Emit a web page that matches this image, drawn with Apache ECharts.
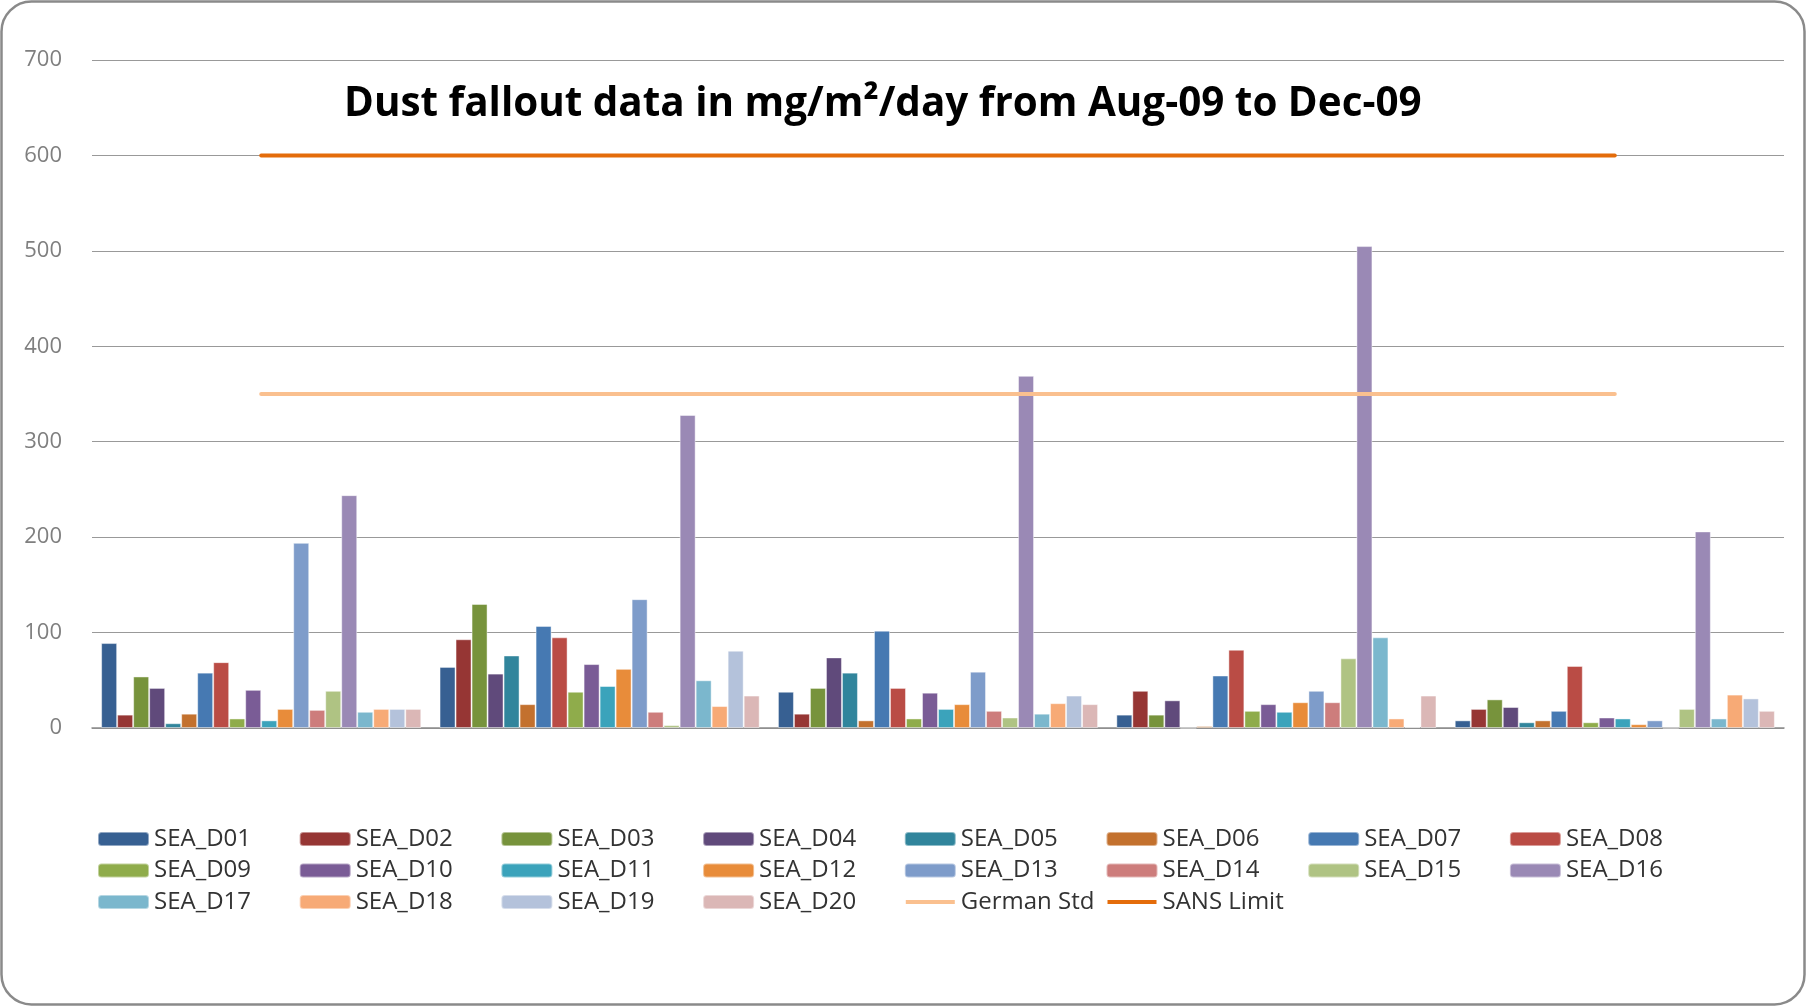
<!DOCTYPE html>
<html>
<head>
<meta charset="utf-8">
<title>Dust fallout</title>
<script src="https://cdn.jsdelivr.net/npm/echarts@6/dist/echarts.min.js"></script>
<style>
  html, body { margin: 0; padding: 0; background: #fff; }
  #chart { width: 1807px; height: 1007px; }
</style>
</head>
<body>
<div id="chart"></div>
<script>
// months (no labels shown on the original x axis)
const months = ['Aug-09', 'Sep-09', 'Oct-09', 'Nov-09', 'Dec-09']

const D01 = [89, 64, 38, 14, 8]
const D02 = [14, 93, 15, 39, 20]
const D03 = [54, 130, 42, 14, 30]
const D04 = [42, 57, 74, 29, 22]
const D05 = [5, 76, 58, 0, 6]
const D06 = [15, 25, 8, 2, 8]
const D07 = [58, 107, 102, 55, 18]
const D08 = [69, 95, 42, 82, 65]
const D09 = [10, 38, 10, 18, 6]
const D10 = [40, 67, 37, 25, 11]
const D11 = [8, 44, 20, 17, 10]
const D12 = [20, 62, 25, 27, 4]
const D13 = [194, 135, 59, 39, 8]
const D14 = [19, 17, 18, 27, 0]
const D15 = [39, 3, 11, 73, 20]
const D16 = [244, 328, 369, 505, 206]
const D17 = [17, 50, 15, 95, 10]
const D18 = [20, 23, 26, 10, 35]
const D19 = [20, 81, 34, 1, 31]
const D20 = [20, 34, 25, 34, 18]

const germanStd = [350, 350, 350, 350, 350]
const sansLimit = [600, 600, 600, 600, 600]

const stations = [
  ['SEA_D01', D01, '#376092'], ['SEA_D02', D02, '#963634'], ['SEA_D03', D03, '#77933C'],
  ['SEA_D04', D04, '#604A7B'], ['SEA_D05', D05, '#31859C'], ['SEA_D06', D06, '#C3712E'],
  ['SEA_D07', D07, '#4679B2'], ['SEA_D08', D08, '#BA4C45'], ['SEA_D09', D09, '#8FAC4B'],
  ['SEA_D10', D10, '#7A5C96'], ['SEA_D11', D11, '#3BA3BB'], ['SEA_D12', D12, '#E88C3A'],
  ['SEA_D13', D13, '#7E9CCA'], ['SEA_D14', D14, '#CD7D7C'], ['SEA_D15', D15, '#AFC383'],
  ['SEA_D16', D16, '#9A89B5'], ['SEA_D17', D17, '#7BB7CD'], ['SEA_D18', D18, '#F7AA76'],
  ['SEA_D19', D19, '#B4C2DB'], ['SEA_D20', D20, '#DBB7B6']
]

const font = 'Open Sans'

const series = stations.map(s => ({
  name: s[0],
  type: 'bar',
  data: s[1],
  barGap: '0%',
  barCategoryGap: '5.4%',
  itemStyle: { color: s[2], borderColor: 'rgba(255,255,255,0.45)', borderWidth: 1 }
}))
series.push({
  name: 'German Std', type: 'line', data: germanStd, symbol: 'none',
  lineStyle: { color: '#FAC08F', width: 4, cap: 'round' }, itemStyle: { color: '#FAC08F' }
})
series.push({
  name: 'SANS Limit', type: 'line', data: sansLimit, symbol: 'none',
  lineStyle: { color: '#E46C0A', width: 4, cap: 'round' }, itemStyle: { color: '#E46C0A' }
})

// thin bar icon for the two limit lines (bounding box kept at 51x14)
const lineIcon = 'path://M0,0 M51,14 M1,5 L50,5 L50,9 L1,9 Z'

const legendData = series.map(s => s.type === 'line' ? { name: s.name, icon: lineIcon } : { name: s.name })

// one vertical legend per column so the 8 columns line up like the original
const legends = []
for (let c = 0; c < 8; c++) {
  const items = legendData.filter((d, i) => i % 8 === c)
  legends.push({
    data: items,
    left: 92 + c * 201.7,
    top: 822,
    orient: 'vertical',
    itemWidth: 51,
    itemHeight: 14,
    itemGap: 7.5,
    textStyle: { fontFamily: font, fontSize: 24, color: '#333' }
  })
}

const chart = echarts.init(document.getElementById('chart'))
chart.setOption({
  animation: false,
  backgroundColor: '#fff',
  title: {
    text: 'Dust fallout data in mg/m²/day from Aug-09 to Dec-09',
    left: 339,
    top: 79,
    textStyle: { fontFamily: font, fontWeight: 'bold', fontSize: 40.4, color: '#000' }
  },
  legend: legends,
  grid: { left: 92, right: 23, top: 60, bottom: 279 },
  xAxis: {
    type: 'category',
    data: months,
    axisLine: { lineStyle: { color: '#8c8c8c', width: 1.5 } },
    axisTick: { show: false },
    axisLabel: { show: false }
  },
  yAxis: {
    type: 'value',
    min: 0,
    max: 700,
    interval: 100,
    axisLine: { show: false },
    axisTick: { show: false },
    axisLabel: { fontFamily: font, fontSize: 22, color: '#7f7f7f', margin: 30 },
    splitLine: { lineStyle: { color: '#999', width: 1.2 } }
  },
  graphic: [{
    type: 'rect',
    shape: { x: 1.5, y: 1.5, width: 1803, height: 1003, r: 30 },
    style: { fill: 'none', stroke: '#8a8a8a', lineWidth: 2.5 },
    silent: true
  }],
  series: series
})
</script>
</body>
</html>
